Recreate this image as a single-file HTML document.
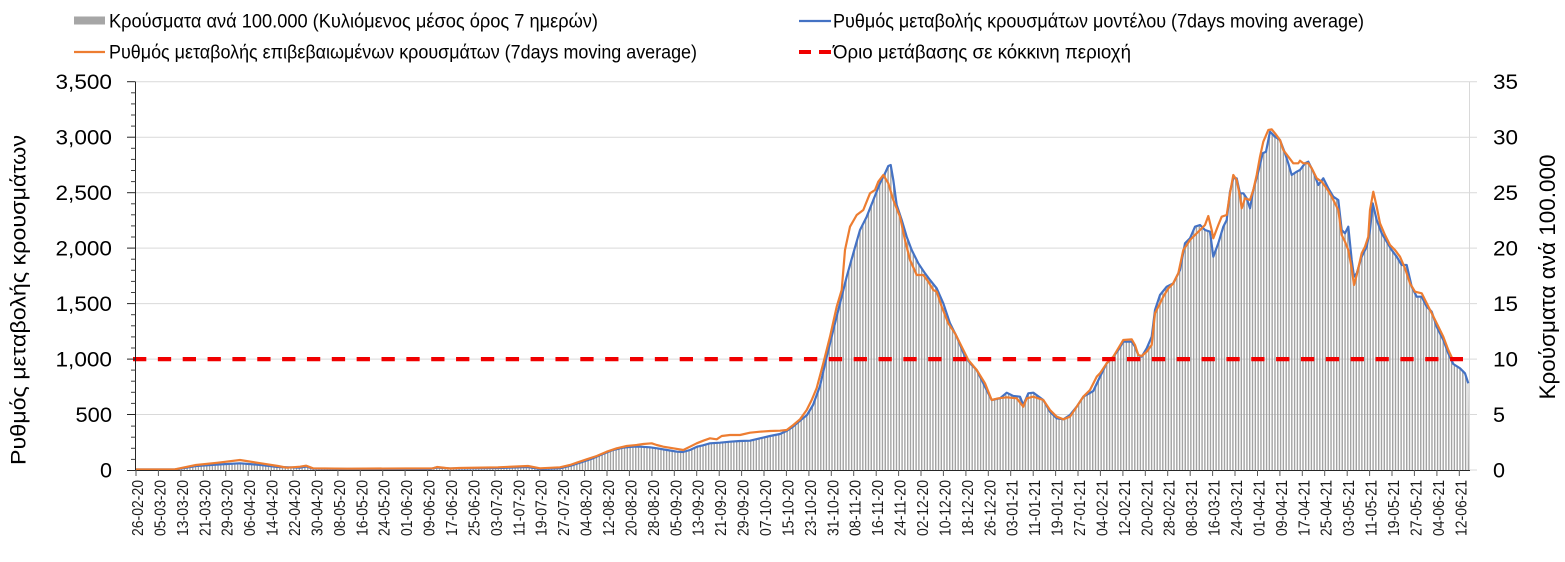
<!DOCTYPE html>
<html>
<head>
<meta charset="utf-8">
<style>
html,body{margin:0;padding:0;background:#fff;}
svg{display:block;font-family:"Liberation Sans","DejaVu Sans",sans-serif;}
</style>
</head>
<body>
<svg width="1565" height="562" viewBox="0 0 1565 562" xmlns="http://www.w3.org/2000/svg">
<defs>
<pattern id="bars" patternUnits="userSpaceOnUse" x="136" y="0" width="2.8036" height="600">
<rect x="0" y="0" width="1.4" height="600" fill="#a3a3a3"/>
</pattern>
</defs>
<rect width="1565" height="562" fill="#fff"/>

<!-- gridlines -->
<g stroke="#d9d9d9" stroke-width="1">
<line x1="136" y1="414.5" x2="1477" y2="414.5"/>
<line x1="136" y1="359.1" x2="1477" y2="359.1"/>
<line x1="136" y1="303.6" x2="1477" y2="303.6"/>
<line x1="136" y1="248.1" x2="1477" y2="248.1"/>
<line x1="136" y1="192.7" x2="1477" y2="192.7"/>
<line x1="136" y1="137.2" x2="1477" y2="137.2"/>
<line x1="136" y1="81.7" x2="1477" y2="81.7"/>
<line x1="1469.5" y1="470" x2="1477" y2="470"/>
<line x1="1469.5" y1="81.7" x2="1469.5" y2="470"/>
</g>

<!-- bars (area filled with vertical stripes) -->
<polygon fill="url(#bars)" points="136,469.5 175,469.5 196,466 218,464.5 240,463.3 261,465 278,467 300,467.7 306,466.5 313,468.7 350,469 430,469 437,467.5 450,468.5 498,468 528,467 540,469 560,468.3 573,465 583,461.7 593,458.3 603,454 613,450 623,447.7 633,446.7 640,446.7 650,447.3 657,448.3 667,450 677,451.7 683,452 690,450 697,446.7 703,445.3 710,443.3 720,442.7 730,441.7 740,441 750,440.7 760,438.3 770,436 780,434 787,430.7 793,426.7 800,420.7 807,415 813,405 820,386 826.7,356.7 833.3,330 840,303.3 846.7,276.7 853.3,253.3 860,230 866.7,216.7 873.3,200 880,183.3 885,173.3 888.3,166 890.7,165 893.3,180 896.7,205 901.7,220 906.7,236.7 911.7,250 918.3,263.3 925,273.3 930,280 936.7,288.3 943.3,303.3 950,323.3 956.7,336.7 965,356.7 971.7,365 976.7,370 985,386.7 991.7,400 1000,398.3 1006.7,392.7 1013.3,396 1020,396.7 1023.3,405 1028.3,393.3 1033.3,392.7 1043.3,400 1050,411.7 1056.7,418.3 1063.3,419.3 1070,415 1076.7,406.7 1083.3,396.7 1093.3,391 1100,376.7 1106.7,363.3 1113.3,356.7 1118.3,350 1123.3,341.7 1131.7,341.7 1135,346.7 1138.3,355 1141.7,356.7 1146.7,348.3 1151.7,336.7 1155,310 1160,295 1166.7,286.7 1173.3,283.3 1180,270 1185,243.3 1190,238.3 1195,226.7 1200,225 1205,230 1210,231.7 1213.3,256.7 1218.3,243.3 1223.3,226.7 1226.7,220 1230,191.7 1233.3,178.3 1236.7,178.3 1240,193.3 1243.3,193.3 1246.7,198.3 1250,208.3 1253.3,190 1258.3,171.7 1262.7,153.3 1266,151.7 1270,131.7 1275,136.7 1280,140 1285,153.3 1288.3,163.3 1291.7,175 1296.7,171.7 1300,170 1305,163.3 1308.3,161.7 1313.3,171.7 1318.3,185 1323.3,178.3 1328.3,188.3 1333.3,196.7 1338.3,200 1341.7,230 1345,233.3 1348.3,226.7 1351.7,260 1354,276.7 1356.7,273.3 1361.7,256.7 1366.7,246.7 1370,230 1372.7,203.3 1376.7,220 1381.7,233.3 1386.7,241.7 1391.7,250 1396.7,256.7 1401.7,265 1406.7,265 1411.7,286.7 1416.7,296.7 1421.7,296.7 1426.7,306.7 1431.7,311.7 1436.7,326.7 1443.3,340 1448.3,353.3 1453.3,364 1460,368.3 1465,373.3 1468.3,383.3 1469,470 136,470"/>

<!-- blue line -->
<polyline fill="none" stroke="#4472C4" stroke-width="2.2" stroke-linejoin="round" points="136,469.5 175,469.5 196,466 218,464.5 240,463.3 261,465 278,467 300,467.7 306,466.5 313,468.7 350,469 430,469 437,467.5 450,468.5 498,468 528,467 540,469 560,468.3 573,465 583,461.7 593,458.3 603,454 613,450 623,447.7 633,446.7 640,446.7 650,447.3 657,448.3 667,450 677,451.7 683,452 690,450 697,446.7 703,445.3 710,443.3 720,442.7 730,441.7 740,441 750,440.7 760,438.3 770,436 780,434 787,430.7 793,426.7 800,420.7 807,415 813,405 820,386 826.7,356.7 833.3,330 840,303.3 846.7,276.7 853.3,253.3 860,230 866.7,216.7 873.3,200 880,183.3 885,173.3 888.3,166 890.7,165 893.3,180 896.7,205 901.7,220 906.7,236.7 911.7,250 918.3,263.3 925,273.3 930,280 936.7,288.3 943.3,303.3 950,323.3 956.7,336.7 965,356.7 971.7,365 976.7,370 985,386.7 991.7,400 1000,398.3 1006.7,392.7 1013.3,396 1020,396.7 1023.3,405 1028.3,393.3 1033.3,392.7 1043.3,400 1050,411.7 1056.7,418.3 1063.3,419.3 1070,415 1076.7,406.7 1083.3,396.7 1093.3,391 1100,376.7 1106.7,363.3 1113.3,356.7 1118.3,350 1123.3,341.7 1131.7,341.7 1135,346.7 1138.3,355 1141.7,356.7 1146.7,348.3 1151.7,336.7 1155,310 1160,295 1166.7,286.7 1173.3,283.3 1180,270 1185,243.3 1190,238.3 1195,226.7 1200,225 1205,230 1210,231.7 1213.3,256.7 1218.3,243.3 1223.3,226.7 1226.7,220 1230,191.7 1233.3,178.3 1236.7,178.3 1240,193.3 1243.3,193.3 1246.7,198.3 1250,208.3 1253.3,190 1258.3,171.7 1262.7,153.3 1266,151.7 1270,131.7 1275,136.7 1280,140 1285,153.3 1288.3,163.3 1291.7,175 1296.7,171.7 1300,170 1305,163.3 1308.3,161.7 1313.3,171.7 1318.3,185 1323.3,178.3 1328.3,188.3 1333.3,196.7 1338.3,200 1341.7,230 1345,233.3 1348.3,226.7 1351.7,260 1354,276.7 1356.7,273.3 1361.7,256.7 1366.7,246.7 1370,230 1372.7,203.3 1376.7,220 1381.7,233.3 1386.7,241.7 1391.7,250 1396.7,256.7 1401.7,265 1406.7,265 1411.7,286.7 1416.7,296.7 1421.7,296.7 1426.7,306.7 1431.7,311.7 1436.7,326.7 1443.3,340 1448.3,353.3 1453.3,364 1460,368.3 1465,373.3 1468.3,383.3"/>

<!-- orange line -->
<polyline fill="none" stroke="#ED7D31" stroke-width="2.2" stroke-linejoin="round" points="136,469.5 175,469.3 196,465 218,462.7 240,460 261,463.3 278,466 287,467.7 300,466.7 306,465.7 313,468.3 347,468.7 433,468.3 437,467 450,468.5 459,468 498,467.3 528,466 540,468.3 560,467.3 570,465 576.7,462.7 586.7,459.3 596.7,456 606.7,451.7 616.7,448.3 626.7,446 636.7,445 643.3,444 651.7,443.3 656.7,445 663.3,446.7 673.3,448.3 683.3,450 690,446.7 696.7,443.3 703.3,440.7 710,438.3 716.7,439.3 721.7,436 730,435 740,435 750,432.7 760,431.7 770,431 780,430.7 786.7,430 793.3,425 800,419.3 806.7,410 811.7,400 816.7,388 823.3,363.3 830,336.7 836.7,306.7 841.7,290 845,250 850,226.7 856.7,215 863.3,210 870,193.3 875,190 878.3,181.7 883.3,175 888.3,183.3 893.3,200 900,216.7 905,240 910,260 916.7,275 923.3,275 928.3,281.7 933.3,290 936.7,291.7 941.7,306.7 948.3,323.3 955,333.3 961.7,346.7 968.3,360 976.7,370 985,383.3 991.7,400 998.3,398.3 1006.7,397.3 1016.7,398.3 1023.3,406.7 1026.7,398.3 1033.3,396.7 1043.3,400 1050,410 1056.7,416.7 1063.3,419.3 1070,416.7 1076.7,406.7 1083.3,396.7 1090,390 1096.7,376.7 1100,373.3 1106.7,363.3 1113.3,356.7 1118.3,348.3 1123.3,340 1131.7,339.3 1135,345 1138.3,355 1141.7,356 1146.7,351.7 1151.7,345 1155,313.3 1158.3,306.7 1163.3,296.7 1168.3,288.3 1173.3,283.3 1178.3,273.3 1183.3,250 1186.7,245 1190,240 1195,235 1200,230 1205,225 1208.3,216 1211.7,230 1213.3,238.3 1218.3,225 1221.7,216.7 1226.7,215 1230,193.3 1233.3,175 1236.7,180 1240,196.7 1241.7,208.3 1245,198.3 1250,200 1253.3,190 1256.7,175 1260,156.7 1263.3,141.7 1268.3,130 1271.7,129.3 1275,133.3 1280,140 1283.3,150 1288.3,156.7 1293.3,163.3 1298.3,163.3 1300,160.7 1303.3,163.3 1308.3,163.3 1311.7,168.3 1316.7,178.3 1321.7,181.7 1326.7,188.3 1331.7,196.7 1338.3,210 1341.7,235 1345,241.7 1348.3,250 1351.7,268.3 1354,285 1356.7,275 1361.7,253.3 1365,246.7 1368.3,236.7 1370,210 1373.3,191.7 1376.7,206.7 1380,223.3 1385,235 1390,245 1395,250 1400,256.7 1405,268.3 1410,283.3 1415,291.7 1421.7,293.3 1426.7,303.3 1431.7,313.3 1436.7,323.3 1443.3,336.7 1448.3,350 1452,358"/>

<!-- red threshold -->
<line x1="133" y1="359.1" x2="1463" y2="359.1" stroke="#f00000" stroke-width="4.2" stroke-dasharray="13.3 11.55"/>

<!-- axes -->
<line x1="135.5" y1="81.7" x2="135.5" y2="470.5" stroke="#262626" stroke-width="1"/>
<line x1="135" y1="470.5" x2="1470" y2="470.5" stroke="#262626" stroke-width="1"/>
<g stroke="#262626" stroke-width="1">
<line x1="127" y1="470.5" x2="135.5" y2="470.5"/>
<line x1="127" y1="414.5" x2="135.5" y2="414.5"/>
<line x1="127" y1="359.1" x2="135.5" y2="359.1"/>
<line x1="127" y1="303.6" x2="135.5" y2="303.6"/>
<line x1="127" y1="248.1" x2="135.5" y2="248.1"/>
<line x1="127" y1="192.7" x2="135.5" y2="192.7"/>
<line x1="127" y1="137.2" x2="135.5" y2="137.2"/>
<line x1="127" y1="81.7" x2="135.5" y2="81.7"/>
</g>
<g stroke="#404040" stroke-width="1">
<line x1="131" y1="459.4" x2="135.5" y2="459.4"/><line x1="131" y1="448.3" x2="135.5" y2="448.3"/><line x1="131" y1="437.2" x2="135.5" y2="437.2"/><line x1="131" y1="426.1" x2="135.5" y2="426.1"/>
<line x1="131" y1="403.4" x2="135.5" y2="403.4"/><line x1="131" y1="392.3" x2="135.5" y2="392.3"/><line x1="131" y1="381.2" x2="135.5" y2="381.2"/><line x1="131" y1="370.1" x2="135.5" y2="370.1"/>
<line x1="131" y1="348" x2="135.5" y2="348"/><line x1="131" y1="336.9" x2="135.5" y2="336.9"/><line x1="131" y1="325.8" x2="135.5" y2="325.8"/><line x1="131" y1="314.7" x2="135.5" y2="314.7"/>
<line x1="131" y1="292.5" x2="135.5" y2="292.5"/><line x1="131" y1="281.4" x2="135.5" y2="281.4"/><line x1="131" y1="270.3" x2="135.5" y2="270.3"/><line x1="131" y1="259.2" x2="135.5" y2="259.2"/>
<line x1="131" y1="237" x2="135.5" y2="237"/><line x1="131" y1="225.9" x2="135.5" y2="225.9"/><line x1="131" y1="214.8" x2="135.5" y2="214.8"/><line x1="131" y1="203.8" x2="135.5" y2="203.8"/>
<line x1="131" y1="181.6" x2="135.5" y2="181.6"/><line x1="131" y1="170.5" x2="135.5" y2="170.5"/><line x1="131" y1="159.4" x2="135.5" y2="159.4"/><line x1="131" y1="148.3" x2="135.5" y2="148.3"/>
<line x1="131" y1="126.1" x2="135.5" y2="126.1"/><line x1="131" y1="115" x2="135.5" y2="115"/><line x1="131" y1="103.9" x2="135.5" y2="103.9"/><line x1="131" y1="92.8" x2="135.5" y2="92.8"/>
</g>

<!-- x ticks -->
<g stroke="#595959" stroke-width="1">
<line x1="136" y1="470" x2="136" y2="476"/><line x1="158.4" y1="470" x2="158.4" y2="476"/><line x1="180.9" y1="470" x2="180.9" y2="476"/><line x1="203.3" y1="470" x2="203.3" y2="476"/><line x1="225.7" y1="470" x2="225.7" y2="476"/><line x1="248.1" y1="470" x2="248.1" y2="476"/><line x1="270.6" y1="470" x2="270.6" y2="476"/><line x1="293" y1="470" x2="293" y2="476"/><line x1="315.4" y1="470" x2="315.4" y2="476"/><line x1="337.9" y1="470" x2="337.9" y2="476"/>
<line x1="360.3" y1="470" x2="360.3" y2="476"/><line x1="382.7" y1="470" x2="382.7" y2="476"/><line x1="405.1" y1="470" x2="405.1" y2="476"/><line x1="427.6" y1="470" x2="427.6" y2="476"/><line x1="450" y1="470" x2="450" y2="476"/><line x1="472.4" y1="470" x2="472.4" y2="476"/><line x1="494.9" y1="470" x2="494.9" y2="476"/><line x1="517.3" y1="470" x2="517.3" y2="476"/><line x1="539.7" y1="470" x2="539.7" y2="476"/><line x1="562.2" y1="470" x2="562.2" y2="476"/>
<line x1="584.6" y1="470" x2="584.6" y2="476"/><line x1="607" y1="470" x2="607" y2="476"/><line x1="629.4" y1="470" x2="629.4" y2="476"/><line x1="651.9" y1="470" x2="651.9" y2="476"/><line x1="674.3" y1="470" x2="674.3" y2="476"/><line x1="696.7" y1="470" x2="696.7" y2="476"/><line x1="719.2" y1="470" x2="719.2" y2="476"/><line x1="741.6" y1="470" x2="741.6" y2="476"/><line x1="764" y1="470" x2="764" y2="476"/><line x1="786.4" y1="470" x2="786.4" y2="476"/>
<line x1="808.9" y1="470" x2="808.9" y2="476"/><line x1="831.3" y1="470" x2="831.3" y2="476"/><line x1="853.7" y1="470" x2="853.7" y2="476"/><line x1="876.2" y1="470" x2="876.2" y2="476"/><line x1="898.6" y1="470" x2="898.6" y2="476"/><line x1="921" y1="470" x2="921" y2="476"/><line x1="943.4" y1="470" x2="943.4" y2="476"/><line x1="965.9" y1="470" x2="965.9" y2="476"/><line x1="988.3" y1="470" x2="988.3" y2="476"/><line x1="1010.7" y1="470" x2="1010.7" y2="476"/>
<line x1="1033.2" y1="470" x2="1033.2" y2="476"/><line x1="1055.6" y1="470" x2="1055.6" y2="476"/><line x1="1078" y1="470" x2="1078" y2="476"/><line x1="1100.4" y1="470" x2="1100.4" y2="476"/><line x1="1122.9" y1="470" x2="1122.9" y2="476"/><line x1="1145.3" y1="470" x2="1145.3" y2="476"/><line x1="1167.7" y1="470" x2="1167.7" y2="476"/><line x1="1190.2" y1="470" x2="1190.2" y2="476"/><line x1="1212.6" y1="470" x2="1212.6" y2="476"/><line x1="1235" y1="470" x2="1235" y2="476"/>
<line x1="1257.5" y1="470" x2="1257.5" y2="476"/><line x1="1279.9" y1="470" x2="1279.9" y2="476"/><line x1="1302.3" y1="470" x2="1302.3" y2="476"/><line x1="1324.7" y1="470" x2="1324.7" y2="476"/><line x1="1347.2" y1="470" x2="1347.2" y2="476"/><line x1="1369.6" y1="470" x2="1369.6" y2="476"/><line x1="1392" y1="470" x2="1392" y2="476"/><line x1="1414.4" y1="470" x2="1414.4" y2="476"/><line x1="1436.9" y1="470" x2="1436.9" y2="476"/><line x1="1459.3" y1="470" x2="1459.3" y2="476"/>
</g>

<!-- left axis labels -->
<g font-size="21" fill="#000" text-anchor="end">
<text x="112" y="477.5" textLength="12" lengthAdjust="spacingAndGlyphs">0</text>
<text x="112" y="422" textLength="36.5" lengthAdjust="spacingAndGlyphs">500</text>
<text x="112" y="366.6" textLength="56.5" lengthAdjust="spacingAndGlyphs">1,000</text>
<text x="112" y="311.1" textLength="56.5" lengthAdjust="spacingAndGlyphs">1,500</text>
<text x="112" y="255.6" textLength="56.5" lengthAdjust="spacingAndGlyphs">2,000</text>
<text x="112" y="200.2" textLength="56.5" lengthAdjust="spacingAndGlyphs">2,500</text>
<text x="112" y="144.7" textLength="56.5" lengthAdjust="spacingAndGlyphs">3,000</text>
<text x="112" y="89.2" textLength="56.5" lengthAdjust="spacingAndGlyphs">3,500</text>
</g>

<!-- right axis labels -->
<g font-size="21" fill="#000" text-anchor="start">
<text x="1493" y="477.5" textLength="12" lengthAdjust="spacingAndGlyphs">0</text>
<text x="1493" y="422" textLength="12" lengthAdjust="spacingAndGlyphs">5</text>
<text x="1493" y="366.6" textLength="25" lengthAdjust="spacingAndGlyphs">10</text>
<text x="1493" y="311.1" textLength="25" lengthAdjust="spacingAndGlyphs">15</text>
<text x="1493" y="255.6" textLength="25" lengthAdjust="spacingAndGlyphs">20</text>
<text x="1493" y="200.2" textLength="25" lengthAdjust="spacingAndGlyphs">25</text>
<text x="1493" y="144.7" textLength="25" lengthAdjust="spacingAndGlyphs">30</text>
<text x="1493" y="89.2" textLength="25" lengthAdjust="spacingAndGlyphs">35</text>
</g>

<!-- axis titles -->
<text transform="translate(25.5,300) rotate(-90)" font-size="21" text-anchor="middle" fill="#000" textLength="330" lengthAdjust="spacingAndGlyphs">Ρυθμός μεταβολής κρουσμάτων</text>
<text transform="translate(1555,277) rotate(-90)" font-size="22" text-anchor="middle" fill="#000" textLength="245" lengthAdjust="spacingAndGlyphs">Κρούσματα ανά 100.000</text>

<!-- x labels -->
<g font-size="15.5" fill="#1a1a1a" text-anchor="end">
<text transform="translate(143,480) rotate(-90)" textLength="56" lengthAdjust="spacingAndGlyphs">26-02-20</text>
<text transform="translate(165.4,480) rotate(-90)" textLength="56" lengthAdjust="spacingAndGlyphs">05-03-20</text>
<text transform="translate(187.9,480) rotate(-90)" textLength="56" lengthAdjust="spacingAndGlyphs">13-03-20</text>
<text transform="translate(210.3,480) rotate(-90)" textLength="56" lengthAdjust="spacingAndGlyphs">21-03-20</text>
<text transform="translate(232.7,480) rotate(-90)" textLength="56" lengthAdjust="spacingAndGlyphs">29-03-20</text>
<text transform="translate(255.1,480) rotate(-90)" textLength="56" lengthAdjust="spacingAndGlyphs">06-04-20</text>
<text transform="translate(277.6,480) rotate(-90)" textLength="56" lengthAdjust="spacingAndGlyphs">14-04-20</text>
<text transform="translate(300,480) rotate(-90)" textLength="56" lengthAdjust="spacingAndGlyphs">22-04-20</text>
<text transform="translate(322.4,480) rotate(-90)" textLength="56" lengthAdjust="spacingAndGlyphs">30-04-20</text>
<text transform="translate(344.9,480) rotate(-90)" textLength="56" lengthAdjust="spacingAndGlyphs">08-05-20</text>
<text transform="translate(367.3,480) rotate(-90)" textLength="56" lengthAdjust="spacingAndGlyphs">16-05-20</text>
<text transform="translate(389.7,480) rotate(-90)" textLength="56" lengthAdjust="spacingAndGlyphs">24-05-20</text>
<text transform="translate(412.1,480) rotate(-90)" textLength="56" lengthAdjust="spacingAndGlyphs">01-06-20</text>
<text transform="translate(434.6,480) rotate(-90)" textLength="56" lengthAdjust="spacingAndGlyphs">09-06-20</text>
<text transform="translate(457,480) rotate(-90)" textLength="56" lengthAdjust="spacingAndGlyphs">17-06-20</text>
<text transform="translate(479.4,480) rotate(-90)" textLength="56" lengthAdjust="spacingAndGlyphs">25-06-20</text>
<text transform="translate(501.9,480) rotate(-90)" textLength="56" lengthAdjust="spacingAndGlyphs">03-07-20</text>
<text transform="translate(524.3,480) rotate(-90)" textLength="56" lengthAdjust="spacingAndGlyphs">11-07-20</text>
<text transform="translate(546.7,480) rotate(-90)" textLength="56" lengthAdjust="spacingAndGlyphs">19-07-20</text>
<text transform="translate(569.2,480) rotate(-90)" textLength="56" lengthAdjust="spacingAndGlyphs">27-07-20</text>
<text transform="translate(591.6,480) rotate(-90)" textLength="56" lengthAdjust="spacingAndGlyphs">04-08-20</text>
<text transform="translate(614,480) rotate(-90)" textLength="56" lengthAdjust="spacingAndGlyphs">12-08-20</text>
<text transform="translate(636.4,480) rotate(-90)" textLength="56" lengthAdjust="spacingAndGlyphs">20-08-20</text>
<text transform="translate(658.9,480) rotate(-90)" textLength="56" lengthAdjust="spacingAndGlyphs">28-08-20</text>
<text transform="translate(681.3,480) rotate(-90)" textLength="56" lengthAdjust="spacingAndGlyphs">05-09-20</text>
<text transform="translate(703.7,480) rotate(-90)" textLength="56" lengthAdjust="spacingAndGlyphs">13-09-20</text>
<text transform="translate(726.2,480) rotate(-90)" textLength="56" lengthAdjust="spacingAndGlyphs">21-09-20</text>
<text transform="translate(748.6,480) rotate(-90)" textLength="56" lengthAdjust="spacingAndGlyphs">29-09-20</text>
<text transform="translate(771,480) rotate(-90)" textLength="56" lengthAdjust="spacingAndGlyphs">07-10-20</text>
<text transform="translate(793.4,480) rotate(-90)" textLength="56" lengthAdjust="spacingAndGlyphs">15-10-20</text>
<text transform="translate(815.9,480) rotate(-90)" textLength="56" lengthAdjust="spacingAndGlyphs">23-10-20</text>
<text transform="translate(838.3,480) rotate(-90)" textLength="56" lengthAdjust="spacingAndGlyphs">31-10-20</text>
<text transform="translate(860.7,480) rotate(-90)" textLength="56" lengthAdjust="spacingAndGlyphs">08-11-20</text>
<text transform="translate(883.2,480) rotate(-90)" textLength="56" lengthAdjust="spacingAndGlyphs">16-11-20</text>
<text transform="translate(905.6,480) rotate(-90)" textLength="56" lengthAdjust="spacingAndGlyphs">24-11-20</text>
<text transform="translate(928,480) rotate(-90)" textLength="56" lengthAdjust="spacingAndGlyphs">02-12-20</text>
<text transform="translate(950.4,480) rotate(-90)" textLength="56" lengthAdjust="spacingAndGlyphs">10-12-20</text>
<text transform="translate(972.9,480) rotate(-90)" textLength="56" lengthAdjust="spacingAndGlyphs">18-12-20</text>
<text transform="translate(995.3,480) rotate(-90)" textLength="56" lengthAdjust="spacingAndGlyphs">26-12-20</text>
<text transform="translate(1017.7,480) rotate(-90)" textLength="56" lengthAdjust="spacingAndGlyphs">03-01-21</text>
<text transform="translate(1040.2,480) rotate(-90)" textLength="56" lengthAdjust="spacingAndGlyphs">11-01-21</text>
<text transform="translate(1062.6,480) rotate(-90)" textLength="56" lengthAdjust="spacingAndGlyphs">19-01-21</text>
<text transform="translate(1085,480) rotate(-90)" textLength="56" lengthAdjust="spacingAndGlyphs">27-01-21</text>
<text transform="translate(1107.4,480) rotate(-90)" textLength="56" lengthAdjust="spacingAndGlyphs">04-02-21</text>
<text transform="translate(1129.9,480) rotate(-90)" textLength="56" lengthAdjust="spacingAndGlyphs">12-02-21</text>
<text transform="translate(1152.3,480) rotate(-90)" textLength="56" lengthAdjust="spacingAndGlyphs">20-02-21</text>
<text transform="translate(1174.7,480) rotate(-90)" textLength="56" lengthAdjust="spacingAndGlyphs">28-02-21</text>
<text transform="translate(1197.2,480) rotate(-90)" textLength="56" lengthAdjust="spacingAndGlyphs">08-03-21</text>
<text transform="translate(1219.6,480) rotate(-90)" textLength="56" lengthAdjust="spacingAndGlyphs">16-03-21</text>
<text transform="translate(1242,480) rotate(-90)" textLength="56" lengthAdjust="spacingAndGlyphs">24-03-21</text>
<text transform="translate(1264.5,480) rotate(-90)" textLength="56" lengthAdjust="spacingAndGlyphs">01-04-21</text>
<text transform="translate(1286.9,480) rotate(-90)" textLength="56" lengthAdjust="spacingAndGlyphs">09-04-21</text>
<text transform="translate(1309.3,480) rotate(-90)" textLength="56" lengthAdjust="spacingAndGlyphs">17-04-21</text>
<text transform="translate(1331.7,480) rotate(-90)" textLength="56" lengthAdjust="spacingAndGlyphs">25-04-21</text>
<text transform="translate(1354.2,480) rotate(-90)" textLength="56" lengthAdjust="spacingAndGlyphs">03-05-21</text>
<text transform="translate(1376.6,480) rotate(-90)" textLength="56" lengthAdjust="spacingAndGlyphs">11-05-21</text>
<text transform="translate(1399,480) rotate(-90)" textLength="56" lengthAdjust="spacingAndGlyphs">19-05-21</text>
<text transform="translate(1421.4,480) rotate(-90)" textLength="56" lengthAdjust="spacingAndGlyphs">27-05-21</text>
<text transform="translate(1443.9,480) rotate(-90)" textLength="56" lengthAdjust="spacingAndGlyphs">04-06-21</text>
<text transform="translate(1466.3,480) rotate(-90)" textLength="56" lengthAdjust="spacingAndGlyphs">12-06-21</text>
</g>

<!-- legend -->
<rect x="74" y="16.5" width="31" height="8" fill="#a6a6a6"/>
<text x="109" y="27.5" font-size="19" fill="#000" textLength="489" lengthAdjust="spacingAndGlyphs">Κρούσματα ανά 100.000 (Κυλιόμενος μέσος όρος 7 ημερών)</text>
<line x1="74" y1="52" x2="105" y2="52" stroke="#ED7D31" stroke-width="2.2"/>
<text x="109" y="58.5" font-size="19" fill="#000" textLength="588" lengthAdjust="spacingAndGlyphs">Ρυθμός μεταβολής επιβεβαιωμένων κρουσμάτων (7days moving average)</text>
<line x1="799" y1="21" x2="831" y2="21" stroke="#4472C4" stroke-width="2.2"/>
<text x="833" y="27.5" font-size="19" fill="#000" textLength="531" lengthAdjust="spacingAndGlyphs">Ρυθμός μεταβολής κρουσμάτων μοντέλου (7days moving average)</text>
<line x1="799" y1="52" x2="811" y2="52" stroke="#f00000" stroke-width="4"/>
<line x1="819" y1="52" x2="831" y2="52" stroke="#f00000" stroke-width="4"/>
<text x="833" y="58.5" font-size="19" fill="#000" textLength="298" lengthAdjust="spacingAndGlyphs">Όριο μετάβασης σε κόκκινη περιοχή</text>
</svg>
</body>
</html>
